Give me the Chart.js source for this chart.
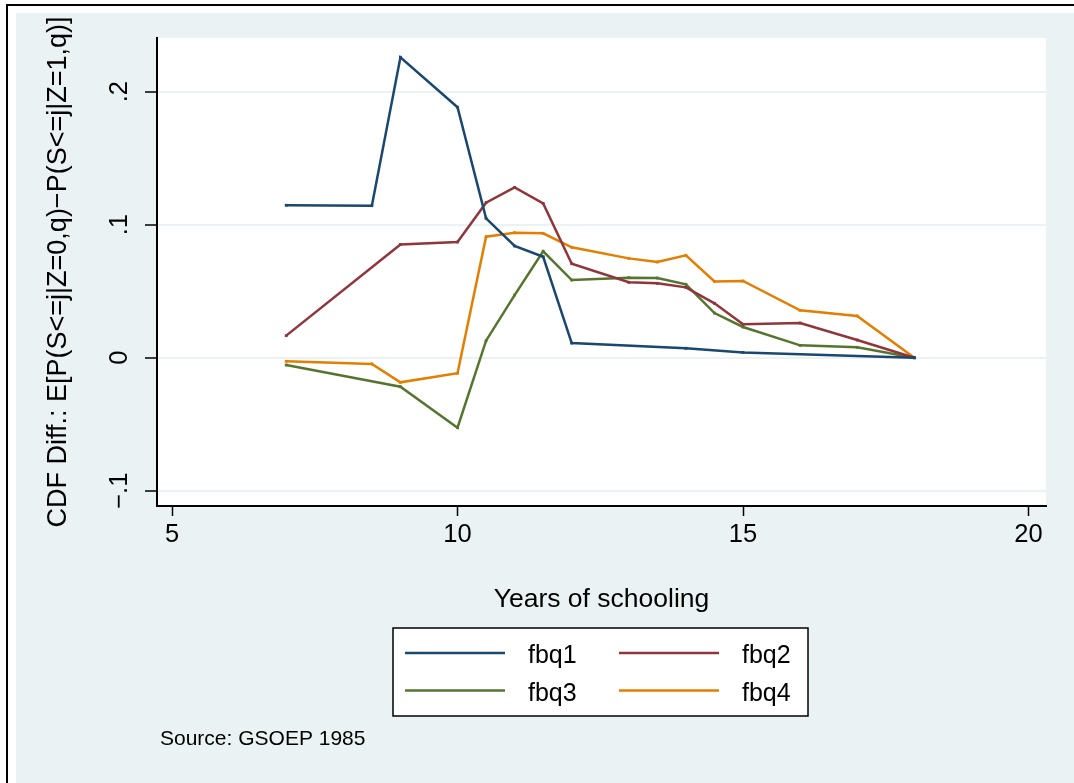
<!DOCTYPE html>
<html>
<head>
<meta charset="utf-8">
<script src="https://cdn.jsdelivr.net/npm/chart.js@4.4.1/dist/chart.umd.min.js"></script>
<style>
  html, body { margin: 0; padding: 0; background: #fff; }
</style>
</head>
<body>
<canvas id="grafico" width="1074" height="783"></canvas>
<script>
// years of schooling (x) and CDF differences (y), one pair per series
const anosQ1 = [7, 8.5, 9, 10, 10.5, 11, 11.5, 12, 14, 15, 18];
const fbq1 = [0.1146, 0.1143, 0.2259, 0.1883, 0.1048, 0.084, 0.0759, 0.011, 0.0071, 0.004, 0];

const anosQ2 = [7, 9, 10, 10.5, 11, 11.5, 12, 13, 13.5, 14, 14.5, 15, 16, 17, 18];
const fbq2 = [0.0166, 0.0852, 0.087, 0.1166, 0.128, 0.116, 0.0707, 0.0567, 0.0559, 0.0529, 0.0409, 0.0251, 0.0261, 0.0133, 0];

const anosQ3 = [7, 9, 10, 10.5, 11, 11.5, 12, 13, 13.5, 14, 14.5, 15, 16, 17, 18];
const fbq3 = [-0.0055, -0.0218, -0.0526, 0.0128, 0.0471, 0.080, 0.0584, 0.0602, 0.0599, 0.0552, 0.0336, 0.0231, 0.0093, 0.0078, 0];

const anosQ4 = [7, 8.5, 9, 10, 10.5, 11, 11.5, 12, 13, 13.5, 14, 14.5, 15, 16, 17, 18];
const fbq4 = [-0.0027, -0.0047, -0.0185, -0.0117, 0.091, 0.094, 0.0935, 0.083, 0.0747, 0.072, 0.077, 0.0574, 0.0577, 0.0356, 0.0314, 0];

const ticksX = [5, 10, 15, 20];
const ticksY = [-0.1, 0, 0.1, 0.2];
const rotulosY = {'-0.1': '\u2212.1', '0': '0', '0.1': '.1', '0.2': '.2'};

const fonte = '"Liberation Sans", Arial, Helvetica, sans-serif';
Chart.defaults.font.family = fonte;
Chart.defaults.color = '#000';

function pares(xs, ys) {
    return xs.map((x, i) => ({ x: x, y: ys[i] }));
}

function serie(nome, xs, ys, cor) {
    return {
        label: nome,
        data: pares(xs, ys),
        showLine: true,
        borderColor: cor,
        backgroundColor: cor,
        borderWidth: 2.5,
        pointStyle: 'rect',
        pointRadius: 2,
        pointBorderWidth: 0,
        pointBackgroundColor: cor
    };
}

// background, outer frame and white plot region
const fundoStata = {
    id: 'fundoStata',
    beforeDraw(chart) {
        const { ctx, chartArea: a } = chart;
        ctx.save();
        ctx.fillStyle = '#ffffff';
        ctx.fillRect(0, 0, chart.width, chart.height);
        ctx.fillStyle = '#eaf2f3';
        ctx.fillRect(16, 13, chart.width - 16, chart.height - 13);
        ctx.strokeStyle = '#000';
        ctx.lineWidth = 2;
        ctx.beginPath();
        ctx.moveTo(7, chart.height);
        ctx.lineTo(7, 5);
        ctx.lineTo(chart.width, 5);
        ctx.stroke();
        ctx.fillStyle = '#ffffff';
        ctx.fillRect(a.left, a.top, a.right - a.left, a.bottom - a.top);
        ctx.restore();
    }
};

// two-column legend in a box + source note
const legendaStata = {
    id: 'legendaStata',
    afterDraw(chart) {
        const ctx = chart.ctx;
        ctx.save();
        ctx.fillStyle = '#ffffff';
        ctx.fillRect(393, 628, 415, 88);
        ctx.strokeStyle = '#000';
        ctx.lineWidth = 1.5;
        ctx.strokeRect(393, 628, 415, 88);
        chart.data.datasets.forEach((ds, i) => {
            const x = 405 + (i % 2) * 214;
            const y = 653 + Math.floor(i / 2) * 37.5;
            ctx.strokeStyle = ds.borderColor;
            ctx.lineWidth = 2.5;
            ctx.beginPath();
            ctx.moveTo(x, y);
            ctx.lineTo(x + 100, y);
            ctx.stroke();
            ctx.fillStyle = '#000';
            ctx.font = '25px ' + fonte;
            ctx.textBaseline = 'alphabetic';
            ctx.fillText(ds.label, x + 123, y + 10);
        });
        ctx.font = '21px ' + fonte;
        ctx.fillText('Source: GSOEP 1985', 160, 745);
        ctx.restore();
    }
};

const ctx = document.getElementById('grafico').getContext('2d');

const grafico = new Chart(ctx, {
    type: 'scatter',
    data: {
        datasets: [
            serie('fbq1', anosQ1, fbq1, '#1a476f'),
            serie('fbq2', anosQ2, fbq2, '#90353b'),
            serie('fbq3', anosQ3, fbq3, '#55752f'),
            serie('fbq4', anosQ4, fbq4, '#e37e00')
        ]
    },
    options: {
        responsive: false,
        animation: false,
        layout: { padding: { top: 38, right: 28, bottom: 0, left: 0 } },
        plugins: {
            legend: { display: false },
            tooltip: { enabled: false }
        },
        scales: {
            x: {
                type: 'linear',
                min: 4.737,
                max: 20.306,
                afterBuildTicks: (s) => { s.ticks = ticksX.map(v => ({ value: v })); },
                afterFit: (s) => { s.height = 277; },
                ticks: {
                    font: { size: 25.5 },
                    padding: 3.5,
                    maxRotation: 0,
                    callback: (v) => String(v)
                },
                grid: {
                    drawOnChartArea: false,
                    drawTicks: true,
                    tickLength: 10,
                    tickColor: '#000',
                    tickWidth: 1.5
                },
                border: { display: true, color: '#000', width: 2 },
                title: {
                    display: true,
                    text: 'Years of schooling',
                    font: { size: 26.5 },
                    padding: { top: 0, bottom: 167 }
                }
            },
            y: {
                type: 'linear',
                min: -0.1115,
                max: 0.2404,
                afterBuildTicks: (s) => { s.ticks = ticksY.map(v => ({ value: v })); },
                afterFit: (s) => { s.width = 157; },
                ticks: {
                    font: { size: 25.5 },
                    padding: 7,
                    minRotation: 90,
                    maxRotation: 90,
                    crossAlign: 'center',
                    callback: (v) => rotulosY[String(Math.round(v * 10) / 10)]
                },
                grid: {
                    color: '#eaf2f3',
                    lineWidth: 2,
                    drawTicks: true,
                    tickLength: 12,
                    tickColor: '#000',
                    tickWidth: 1.5
                },
                border: { display: true, color: '#000', width: 2 },
                title: {
                    display: true,
                    text: 'CDF Diff.: E[P(S<=j|Z=0,q)\u2212P(S<=j|Z=1,q)]',
                    font: { size: 27 },
                    padding: { top: 42, bottom: 0 }
                }
            }
        }
    },
    plugins: [fundoStata, legendaStata]
});
</script>
</body>
</html>
